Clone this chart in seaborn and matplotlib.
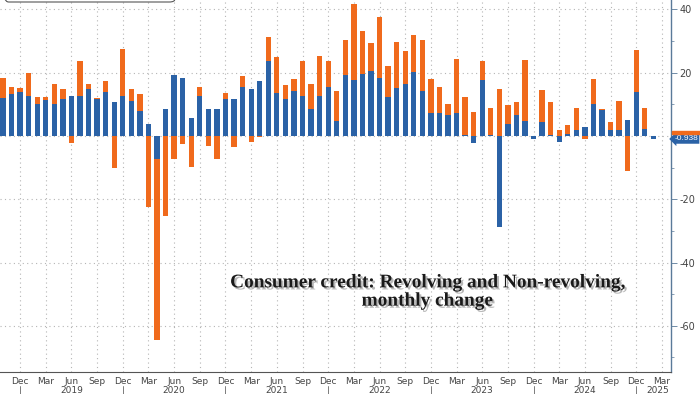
import matplotlib
matplotlib.use("Agg")
import matplotlib.pyplot as plt
import matplotlib.patheffects as pe
import matplotlib.transforms as mtransforms
from matplotlib.patches import Rectangle, FancyBboxPatch
import numpy as np
import pandas as pd
import seaborn as sns

# Monthly change, $bn, Oct 2018 .. Feb 2025
nonrevolving = [11.9, 13.2, 13.8, 12.7, 10.1, 11.3, 10.0, 11.6, 12.8, 12.7,
                15.0, 11.8, 14.0, 10.8, 12.7, 11.0, 7.9, 3.8, -7.2, 8.7,
                19.3, 18.4, 5.7, 12.5, 8.5, 8.7, 11.7, 11.7, 15.4, 14.8,
                17.5, 23.7, 13.7, 11.7, 14.3, 12.6, 8.6, 12.6, 15.6, 4.7,
                19.3, 17.7, 19.6, 20.6, 18.3, 12.4, 15.2, 16.4, 20.2, 14.2,
                7.3, 7.3, 6.5, 7.4, 0.4, -2.3, 17.7, 0.3, -28.9, 3.8,
                6.6, 4.8, -0.9, 4.4, 0.3, -1.9, 0.7, 1.8, 2.9, 10.2,
                8.1, 1.9, 1.9, 5.2, 13.9, 2.3, -0.938]
revolving = [6.6, 2.2, 1.5, 7.3, 2.3, 1.0, 6.6, 3.2, -2.3, 11.0,
             1.6, 0.2, 3.3, -10.0, 14.9, 4.0, 5.4, -22.5, -57.2, -25.2,
             -7.3, -2.5, -9.7, 2.9, -3.2, -7.3, 2.0, -3.4, 3.5, -1.8,
             -0.2, 7.5, 11.3, 4.4, 3.6, 11.1, 8.0, 12.8, 8.1, 9.4,
             11.2, 23.9, 13.6, 8.8, 19.4, 9.7, 14.4, 10.4, 11.6, 16.3,
             10.6, 8.1, 3.7, 16.8, 12.0, 7.7, 5.9, 8.5, 14.8, 6.0,
             4.0, 19.3, 0.0, 10.2, 10.3, 2.0, 2.9, 7.0, -0.9, 7.7,
             0.4, 2.5, 9.2, -10.9, 13.4, 6.7, 0.0]
months = pd.date_range("2018-10-01", periods=len(nonrevolving), freq="MS")
tick_names = ["Dec", "Mar", "Jun", "Sep"]
years = ["2019", "2020", "2021", "2022", "2023", "2024", "2025"]
y_ticks = [-60, -40, -20, 0, 20, 40]
y_labels = ["-60", "-40", "-20", "", "20", "40"]

BLUE = "#2B62A6"
ORANGE = "#F06A1C"
GRID = "#b5b5b5"
TXT = "#444444"

df = pd.DataFrame({"i": np.arange(len(months)), "nonrev": nonrevolving, "rev": revolving})
# stack each series away from zero (positive above, negative below)
same = np.sign(df["nonrev"]) == np.sign(df["rev"])
df["rev_end"] = np.where(same, df["nonrev"] + df["rev"], df["rev"])

sns.set_style("white")
plt.rcParams["axes.unicode_minus"] = False
plt.rcParams["font.family"] = ["DejaVu Sans"]

fig = plt.figure(figsize=(7, 3.94), dpi=100)
ax = fig.add_axes([0, 1 - 372 / 394, 671 / 700, 372 / 394])

sns.barplot(data=df, x="i", y="rev_end", native_scale=True, width=0.62,
            color=ORANGE, saturation=1, errorbar=None, ax=ax, zorder=3)
sns.barplot(data=df, x="i", y="nonrev", native_scale=True, width=0.62,
            color=BLUE, saturation=1, errorbar=None, ax=ax, zorder=4)
for p in ax.patches:
    p.set_edgecolor("none")

ax.set_xlim(-0.35, 78.06)
ax.set_ylim(-74.6, 43.0)
ax.set_xlabel("")
ax.set_ylabel("")

# x ticks: quarterly majors, monthly minors
major_x = np.arange(2, 78, 3)
ax.set_xticks(major_x)
ax.set_xticklabels([tick_names[k % 4] for k in range(len(major_x))])
ax.set_xticks(np.arange(0, 79), minor=True)
ax.tick_params(axis="x", which="major", direction="inout", length=5, width=0.6,
               colors="#666666", labelcolor=TXT, labelsize=6.5, pad=1)
ax.tick_params(axis="x", which="minor", direction="out", length=2, width=0.5,
               colors="#666666")

# y axis on the right
ax.yaxis.tick_right()
ax.set_yticks(y_ticks)
ax.set_yticklabels(y_labels)
ax.set_yticks(np.arange(-70, 41, 10), minor=True)
ax.tick_params(axis="y", which="major", direction="out", length=4, width=0.6,
               colors="#5a7a99", labelcolor=TXT, labelsize=7, pad=2)
ax.tick_params(axis="y", which="minor", direction="out", length=2, width=0.5,
               colors="#5a7a99")

ax.grid(True, which="major", axis="both", color=GRID, linestyle=(0, (1, 3)), linewidth=0.8)
ax.set_axisbelow(True)
for s in ["top", "left"]:
    ax.spines[s].set_visible(False)
ax.spines["right"].set_color("#5a7a99")
ax.spines["right"].set_linewidth(1.0)
ax.spines["bottom"].set_color("#555555")
ax.spines["bottom"].set_linewidth(0.8)

# year labels and separators
trans = mtransforms.blended_transform_factory(ax.transData, ax.transAxes)
year_x = [8, 20, 32, 44, 56, 68, 76.5]
for x, y in zip(year_x, years):
    ax.text(x, -0.051, y, transform=trans, ha="center", va="center", fontsize=6.5, color=TXT)
for x in [2, 14, 26, 38, 50, 62, 74]:
    ax.plot([x, x], [-0.037, -0.07], transform=trans, color="#666666", lw=0.6, clip_on=False)

# last-value tag
last_val = nonrevolving[-1]
fig.patches.append(Rectangle((672 / 700, 1 - 134 / 394), 28 / 700, 3 / 394,
                             transform=fig.transFigure, color=ORANGE, zorder=5))
ytrans = mtransforms.blended_transform_factory(ax.transAxes, ax.transData)
ax.text(1.005, last_val, f"{last_val:.3f}", transform=ytrans, ha="left", va="center",
        fontsize=6, family=["Liberation Sans", "DejaVu Sans"],
        color="white", zorder=6, clip_on=False,
        bbox=dict(boxstyle="larrow,pad=0.15", fc=BLUE, ec="none"))

# cut-off legend box at top left
fig.patches.append(FancyBboxPatch((3 / 700, 1.0 - 2 / 394), 172 / 700, 20 / 394,
                                  boxstyle="round,pad=0,rounding_size=0.008",
                                  transform=fig.transFigure, fc="none", ec="#555555", lw=0.8))

fig.text(427 / 700, 1 - 292 / 394,
         "Consumer credit: Revolving and Non-revolving,\nmonthly change",
         ha="center", va="center", multialignment="center", linespacing=1.1,
         fontsize=13.9, fontweight="bold", family=["Liberation Serif", "DejaVu Serif"],
         color="#1a1a1a",
         path_effects=[pe.SimplePatchShadow(offset=(1.5, -1.5), shadow_rgbFace="#888888", alpha=0.6),
                       pe.Normal()])

fig.savefig("out.png", dpi=100)
